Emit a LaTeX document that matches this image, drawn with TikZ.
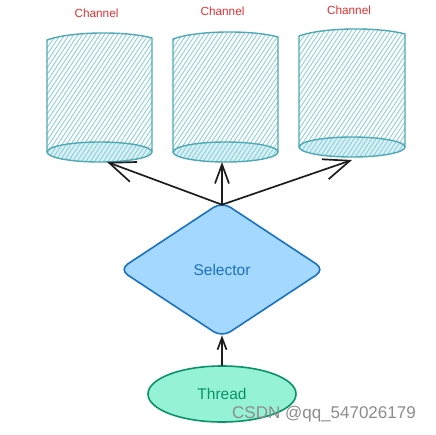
\documentclass[tikz,border=0pt]{standalone}
\usepackage{fontspec}
\setmainfont{Liberation Sans}
\usetikzlibrary{arrows.meta,shapes.geometric}
\definecolor{cylline}{HTML}{4FA8B5}
\definecolor{hatchc}{HTML}{8ED0DA}
\definecolor{ellfill}{HTML}{D6F0F4}
\definecolor{selfill}{HTML}{A5D8FF}
\definecolor{selline}{HTML}{1971C2}
\definecolor{thrfill}{HTML}{96F2D7}
\definecolor{thrline}{HTML}{099268}
\definecolor{arr}{HTML}{1E1E1E}
\definecolor{chan}{HTML}{E03131}
\tikzset{
  chanlabel/.style={text=chan, font=\fontsize{11.8}{14}\selectfont, inner sep=0},
  cylstroke/.style={draw=cylline, line width=1.4pt, line join=round},
  hatchline/.style={draw=hatchc, line width=0.9pt},
  conn/.style={draw=arr, line width=1.7pt, line cap=round, line join=round},
}
% #1 name, #2 left, #3 right, #4 top, #5 bottom centre y, #6 label y, #7 tip x, #8 tip y
\newcommand\drawchannel[8]{%
  \pgfmathsetmacro\cx{(#2+#3)/2}%
  \pgfmathsetmacro\rx{(#3-#2)/2}%
  \begin{scope}
    \clip (#2,#4+7) .. controls (#2+25,#4-2) and (#3-25,#4-2) .. (#3,#4+5)
      -- (#3,#5) arc[start angle=0,end angle=180,x radius=\rx,y radius=10] -- cycle;
    \fill[ellfill] (\cx,#5) ellipse[x radius=\rx, y radius=10];
    \foreach \k in {-22,...,26} \draw[hatchline] (#2+\k*4.4, #5+15) -- ++(92,-138);
  \end{scope}
  \draw[cylstroke] (#2,#5) -- (#2,#4+7) .. controls (#2+25,#4-2) and (#3-25,#4-2) .. (#3,#4+5) -- (#3,#5);
  \draw[cylstroke] (\cx,#5) ellipse[x radius=\rx, y radius=10];
  \node[chanlabel] (#1) at (\cx-3,#6) {Channel};
  \coordinate (#1tip) at (#7,#8);
}
\begin{document}
\begin{tikzpicture}[x=1pt,y=-1pt]
\useasboundingbox (0,0) rectangle (436,434);
\drawchannel{ch1}{47}{152}{33}{152}{13}{107}{162}
\drawchannel{ch2}{173}{278}{32}{152}{11}{222}{162}
\drawchannel{ch3}{299}{405}{29}{147}{10}{352}{160}

\node[diamond, aspect=1.53, draw=selline, fill=selfill, line width=1.6pt,
      minimum width=206pt, minimum height=136pt, inner sep=0, rounded corners=10pt,
      text=selline, font=\fontsize{15.5}{18}\selectfont] (sel) at (222,269.5) {Selector};
\node[ellipse, draw=thrline, fill=thrfill, line width=1.6pt,
      minimum width=148pt, minimum height=56pt, inner sep=0,
      text=thrline, font=\fontsize{15.5}{18}\selectfont] (thr) at (222,394) {Thread};
\coordinate (seltop) at ([yshift=-4pt]sel.north);
\coordinate (selbot) at ([yshift=3pt]sel.south);

\draw[conn, -{Straight Barb[length=26pt,width=21pt,line width=1.7pt]}] (seltop) -- (ch1tip);
\draw[conn, -{Straight Barb[length=19pt,width=14pt,line width=1.7pt]}] (seltop) -- (ch2tip);
\draw[conn, -{Straight Barb[length=26pt,width=21pt,line width=1.7pt]}] (seltop) -- (ch3tip);
\draw[conn, -{Straight Barb[length=12pt,width=9pt,line width=1.7pt]}] (thr.north) -- (selbot);

\node[text=black!45, font=\fontsize{17}{20}\selectfont, inner sep=0] (wm) at (324,414) {CSDN @qq\_547026179};
\end{tikzpicture}
\end{document}
